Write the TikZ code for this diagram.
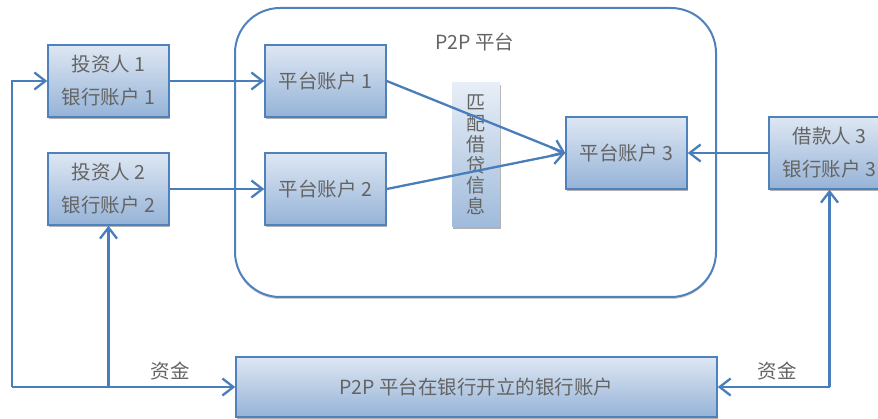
\documentclass[tikz,border=0pt]{standalone}
\usepackage{fontspec}
\setmainfont{Noto Sans CJK SC}
\usepackage{tikz}
\usepackage{xcolor}
\usetikzlibrary{arrows.meta,shadows}

\definecolor{boxline}{RGB}{79,129,189}
\definecolor{flowline}{RGB}{74,126,187}
\definecolor{boxtop}{RGB}{222,231,243}
\definecolor{boxbot}{RGB}{149,179,215}
\definecolor{txtgray}{RGB}{100,100,100}

\tikzset{
	acct/.style={draw=boxline, line width=1.5pt, top color=boxtop, bottom color=boxbot,
		minimum width=121pt, minimum height=72pt, inner sep=0pt, align=center,
		text=txtgray, font=\fontsize{19.5}{33}\selectfont,
		drop shadow={shadow xshift=1pt, shadow yshift=-2.5pt, opacity=.3, fill=black}},
	flow/.style={draw=flowline, line width=2.3pt, -{Straight Barb[length=11pt,width=17pt]}},
	lbl/.style={text=txtgray, font=\fontsize{19.5}{22}\selectfont}
}

\begin{document}
\begin{tikzpicture}[x=1pt,y=-1pt]
			\useasboundingbox (0,0) rectangle (878,419);
			\node[draw=boxline, line width=2pt, fill=white, rounded corners=45pt,
				minimum width=481pt, minimum height=289pt,
				drop shadow={shadow xshift=0pt, shadow yshift=-2pt, opacity=.2, fill=black}]
				(p2p) at (475.5,152.5) {};
			\node[lbl] (p2ptitle) at (475,42) {P2P 平台};
			\node[acct] (inv1) at (108.5,81) {投资人 1\\银行账户 1};
			\node[acct] (inv2) at (108.5,189) {投资人 2\\银行账户 2};
			\node[acct] (plat1) at (325.5,81) {平台账户 1};
			\node[acct] (plat2) at (325.5,189) {平台账户 2};
			\node[acct] (plat3) at (626.5,153) {平台账户 3};
			\node[acct] (borrow) at (829.5,153) {借款人 3\\银行账户 3};
			\node[acct, draw=none, minimum width=48pt, minimum height=144pt,
				top color=boxtop!70!white, bottom color=boxbot!90!white,
				font=\fontsize{19}{20.8}\selectfont] (match) at (476,155) {匹\\配\\借\\贷\\信\\息};
			\node[acct, minimum width=481pt, minimum height=60pt] (bank) at (476.5,387) {P2P 平台在银行开立的银行账户};
			\node[lbl] (fundl) at (170,371) {资金};
			\node[lbl] (fundr) at (777,371) {资金};
			\coordinate (lcorner) at (12,387);
			\coordinate (rcorner) at (borrow.south |- bank.east);
			\draw[flow] (inv1) -- (plat1);
			\draw[flow] (inv2) -- (plat2);
			\draw[flow] (plat1.east) -- (plat3.west);
			\draw[flow] (plat2.east) -- (plat3.west);
			\draw[flow] (borrow) -- (plat3);
			\draw[flow] (lcorner) |- (inv1.west);
			\draw[flow] (lcorner) -- (bank.west);
			\draw[flow] (inv2.south |- bank.west) -- (inv2.south);
			\draw[flow] (rcorner) -- (bank.east);
			\draw[flow] (rcorner) -- (borrow.south);
		\end{tikzpicture}
\end{document}
